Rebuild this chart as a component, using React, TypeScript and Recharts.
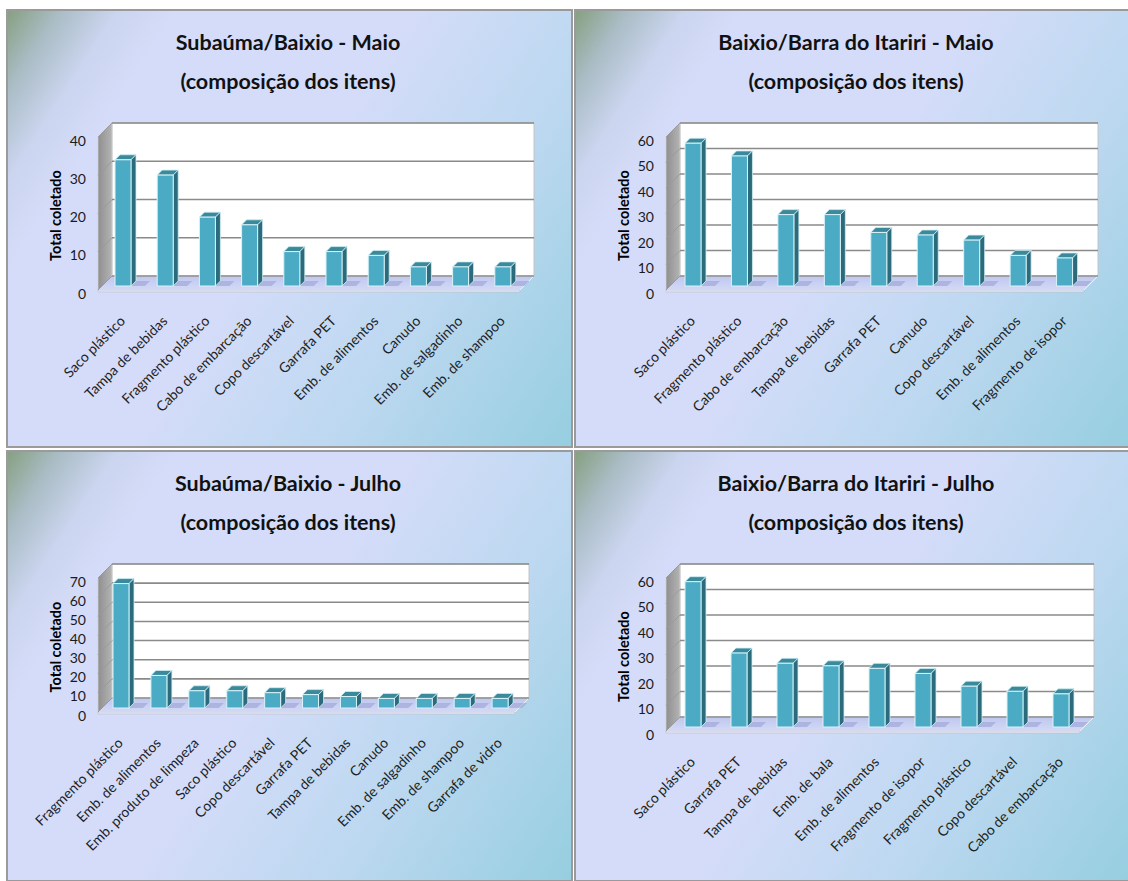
import React from "react";
import { BarChart, Bar, XAxis, YAxis, CartesianGrid, ReferenceArea, Label } from "recharts";

// --- dados ---
const subaumaMaioItens = ["Saco plástico", "Tampa de bebidas", "Fragmento plástico", "Cabo de embarcação", "Copo descartável", "Garrafa PET", "Emb. de alimentos", "Canudo", "Emb. de salgadinho", "Emb. de shampoo"];
const subaumaMaioTotais = [33, 29, 18, 16, 9, 9, 8, 5, 5, 5];
const ticks40 = [0, 10, 20, 30, 40];

const itaririMaioItens = ["Saco plástico", "Fragmento plástico", "Cabo de embarcação", "Tampa de bebidas", "Garrafa PET", "Canudo", "Copo descartável", "Emb. de alimentos", "Fragmento de isopor"];
const itaririMaioTotais = [56, 51, 28, 28, 21, 20, 18, 12, 11];
const ticks60 = [0, 10, 20, 30, 40, 50, 60];

const subaumaJulhoItens = ["Fragmento plástico", "Emb. de alimentos", "Emb. produto de limpeza", "Saco plástico", "Copo descartável", "Garrafa PET", "Tampa de bebidas", "Canudo", "Emb. de salgadinho", "Emb. de shampoo", "Garrafa de vidro"];
const subaumaJulhoTotais = [65, 17, 9, 9, 8, 7, 6, 5, 5, 5, 5];
const ticks70 = [0, 10, 20, 30, 40, 50, 60, 70];

const itaririJulhoItens = ["Saco plástico", "Garrafa PET", "Tampa de bebidas", "Emb. de bala", "Emb. de alimentos", "Fragmento de isopor", "Fragmento plástico", "Copo descartável", "Cabo de embarcação"];
const itaririJulhoTotais = [57, 29, 25, 24, 23, 21, 16, 14, 13];

const DEPTH = 10; // bar plane -> back wall
const FRONT = 4; // bar plane -> front edge of floor
const BAR_DEPTH = 5;

const panels = [
  { title: "Subaúma/Baixio - Maio", itens: subaumaMaioItens, totais: subaumaMaioTotais, ticks: ticks40, left: 6, top: 9, w: 567, h: 439, plotW: 422, plotBottom: 275 },
  { title: "Baixio/Barra do Itariri - Maio", itens: itaririMaioItens, totais: itaririMaioTotais, ticks: ticks60, left: 574, top: 9, w: 556, h: 439, plotW: 418, plotBottom: 275 },
  { title: "Subaúma/Baixio - Julho", itens: subaumaJulhoItens, totais: subaumaJulhoTotais, ticks: ticks70, left: 6, top: 450, w: 567, h: 432, plotW: 417, plotBottom: 256 },
  { title: "Baixio/Barra do Itariri - Julho", itens: itaririJulhoItens, totais: itaririJulhoTotais, ticks: ticks60, left: 574, top: 450, w: 556, h: 432, plotW: 414, plotBottom: 275 },
];

const PLOT_LEFT = 94;
const PLOT_TOP = 122;
const Y_AXIS_W = 60;

function Walls(props: any) {
  const { x, y, width, height } = props;
  const b = y + height;
  return (
    <g>
      <defs>
        <linearGradient id="sideWall" x1="0" y1="0" x2="1" y2="0">
          <stop offset="0%" stopColor="#8f8f8f" />
          <stop offset="100%" stopColor="#b4b4b4" />
        </linearGradient>
        <linearGradient id="floorFill" x1="0" y1="0" x2="0" y2="1">
          <stop offset="0%" stopColor="#bfc7ef" />
          <stop offset="100%" stopColor="#d3d9f6" />
        </linearGradient>
      </defs>
      <rect x={x + DEPTH} y={y - DEPTH} width={width} height={height} fill="#ffffff" stroke="#c4c4c4" strokeWidth={1} />
      <polygon
        points={`${x - FRONT},${y + FRONT} ${x + DEPTH},${y - DEPTH} ${x + DEPTH},${b - DEPTH} ${x - FRONT},${b + FRONT}`}
        fill="url(#sideWall)"
        stroke="#d0d0d0"
        strokeWidth={0.8}
      />
      <polygon
        points={`${x - FRONT},${b + FRONT} ${x + DEPTH},${b - DEPTH} ${x + width + DEPTH},${b - DEPTH} ${x + width - FRONT},${b + FRONT}`}
        fill="url(#floorFill)"
        stroke="#eef1fc"
        strokeWidth={1}
      />
      <polygon
        points={`${x - FRONT},${b + FRONT} ${x + width - FRONT},${b + FRONT} ${x + width - FRONT},${b + FRONT + 2} ${x - FRONT},${b + FRONT + 2}`}
        fill="#e6eafa"
        stroke="#b8bcc8"
        strokeWidth={0.6}
      />
    </g>
  );
}

function GridLine(props: any) {
  const { x1, y1, x2, y2 } = props;
  return (
    <g>
      <line x1={x1 - FRONT} y1={y1 + FRONT} x2={x1 + DEPTH} y2={y1 - DEPTH} stroke="#9a9a9a" strokeWidth={1} />
      <line x1={x1 + DEPTH} y1={y1 - DEPTH} x2={x2 + DEPTH} y2={y2 - DEPTH} stroke="#8a8a8a" strokeWidth={1.6} />
    </g>
  );
}

function Column(props: any) {
  const { x, y, width, height } = props;
  if (!height || height <= 0) return null;
  const d = BAR_DEPTH;
  const b = y + height;
  return (
    <g>
      <polygon
        points={`${x + width},${b} ${x + width + 14},${b} ${x + width + 14 + d},${b - d} ${x + width + d},${b - d}`}
        fill="#8a93c8"
        opacity={0.45}
      />
      <polygon
        points={`${x},${y} ${x + d},${y - d} ${x + width + d},${y - d} ${x + width},${y}`}
        fill="#3a8a9c"
        stroke="#cfeef5"
        strokeWidth={0.8}
      />
      <polygon
        points={`${x + width},${y} ${x + width + d},${y - d} ${x + width + d},${b - d} ${x + width},${b}`}
        fill="#2b6b7b"
        stroke="#cfeef5"
        strokeWidth={0.8}
      />
      <rect x={x} y={y} width={width} height={height} fill="#4babc5" stroke="#d9f3f8" strokeWidth={1} />
    </g>
  );
}

function ValueTick(props: any) {
  const { x, y, payload } = props;
  return (
    <text x={x} y={y + 7} textAnchor="end" dominantBaseline="central" fontFamily="Lato" fontSize={14} fill="#1a1a1a">
      {payload.value}
    </text>
  );
}

function ItemTick(props: any) {
  const { x, y, payload } = props;
  return (
    <g transform={`translate(${x + 3},${y + 36}) rotate(-45)`}>
      <text x={0} y={0} textAnchor="end" fontFamily="Lato" fontSize={14} fill="#222">
        {payload.value}
      </text>
    </g>
  );
}

function AxisTitle(props: any) {
  const vb = props.viewBox || {};
  const cx = vb.x + vb.width - 47;
  const cy = vb.y + vb.height / 2 + 6;
  return (
    <text
      x={cx}
      y={cy}
      transform={`rotate(-90 ${cx} ${cy})`}
      textAnchor="middle"
      dominantBaseline="central"
      fontFamily="Lato"
      fontWeight="bold"
      fontSize={14.5}
      fill="#000"
    >
      Total coletado
    </text>
  );
}

function Painel({ p }: { p: (typeof panels)[number] }) {
  const data = p.itens.map((item, i) => ({ item, total: p.totais[i] }));
  const max = p.ticks[p.ticks.length - 1];
  const cw = p.w - 4;
  const ch = p.h - 4;
  return (
    <div
      style={{
        position: "absolute",
        left: p.left,
        top: p.top,
        width: p.w,
        height: p.h,
        boxSizing: "border-box",
        border: "2px solid #9a9a9a",
        background:
          "linear-gradient(123deg, #86a081 0%, #a9bcc4 6%, #cbd5ef 13%, #d5dcf9 20%, #d4dcf9 48%, #bcd8f0 72%, #96cee0 100%)",
        overflow: "hidden",
      }}
    >
      <div
        style={{
          position: "absolute",
          left: 0,
          top: 12,
          width: 560,
          textAlign: "center",
          fontFamily: "Lato",
          fontWeight: "bold",
          fontSize: 21.5,
          lineHeight: "39px",
          color: "#111",
        }}
      >
        {p.title}
        <br />
        (composição dos itens)
      </div>
      <div style={{ position: "absolute", left: 0, top: 0 }}>
        <BarChart
          width={cw}
          height={ch}
          data={data}
          margin={{ top: PLOT_TOP, left: PLOT_LEFT - Y_AXIS_W, right: cw - PLOT_LEFT - p.plotW, bottom: ch - p.plotBottom - 120 }}
        >
          <ReferenceArea y1={0} y2={max} shape={<Walls />} zIndex={-200} ifOverflow="visible" />
          <CartesianGrid vertical={false} horizontal={(gp: any) => <GridLine key={gp.key} {...gp} />} />
          <XAxis dataKey="item" interval={0} tickLine={false} axisLine={false} tickSize={0} tickMargin={0} height={120} tick={<ItemTick />} />
          <YAxis
            domain={[0, max]}
            ticks={p.ticks}
            interval={0}
            width={Y_AXIS_W}
            tickLine={false}
            axisLine={false}
            tickSize={0}
            tickMargin={16}
            tick={<ValueTick />}
          >
            <Label content={<AxisTitle />} />
          </YAxis>
          <Bar dataKey="total" barSize={16} shape={<Column />} isAnimationActive={false} />
        </BarChart>
      </div>
    </div>
  );
}

export default function App() {
  return (
    <div style={{ position: "absolute", left: 0, top: 0, width: 1128, height: 881, background: "#ffffff", overflow: "hidden" }}>
      {panels.map((p) => (
        <Painel key={p.title} p={p} />
      ))}
    </div>
  );
}
